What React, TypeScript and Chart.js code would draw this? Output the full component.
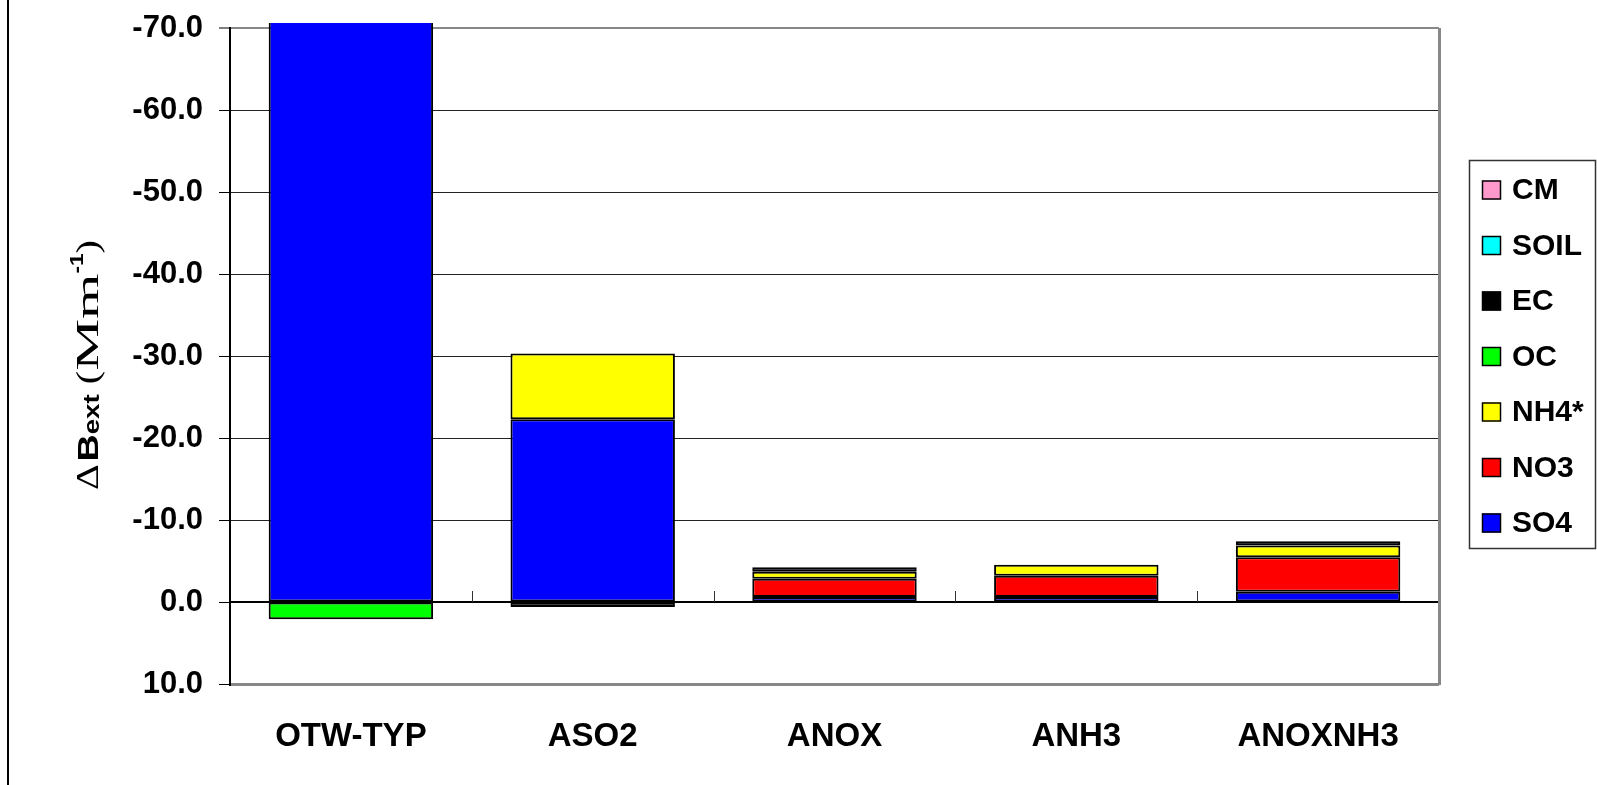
import React, { useEffect, useRef } from "react";
import { Chart, registerables } from "chart.js";
Chart.register(...registerables);

const categories = ["OTW-TYP", "ASO2", "ANOX", "ANH3", "ANOXNH3"];
const SO4 = [-75, -22.3, -0.6, -0.6, -1.25];
const NO3 = [0, 0, -2.25, -2.6, -4.2];
const NH4 = [0, -8.0, -0.85, -1.35, -1.45];
const OC = [2.1, 0, 0, 0, 0];
const EC = [0, 0.6, -0.55, 0, -0.5];
const SOIL = [0, 0, 0, 0, 0];
const CM = [0, 0, 0, 0, 0];
const seriesNames = ["SO4", "NO3", "NH4*", "OC", "EC", "SOIL", "CM"];
const seriesColors = ["#0000FF", "#FF0000", "#FFFF00", "#00FF00", "#000000", "#00FFFF", "#FF99CC"];
const seriesValues = [SO4, NO3, NH4, OC, EC, SOIL, CM];
const yMin = -70;
const yMax = 10;
const yStep = 10;

const SANS = "'Liberation Sans', Arial, sans-serif";
const SERIF = "'Liberation Serif', 'Times New Roman', serif";

const decorPlugin = {
  id: "decor",
  afterDatasetsDraw(chart: any) {
    const ctx = chart.ctx;
    const a = chart.chartArea;
    const yS = chart.scales.y;
    ctx.save();
    const y0 = Math.round(yS.getPixelForValue(0));
    ctx.strokeStyle = "#000";
    ctx.lineWidth = 2;
    ctx.beginPath();
    ctx.moveTo(a.left, y0);
    ctx.lineTo(a.right, y0);
    ctx.stroke();
    const n = categories.length;
    const cw = (a.right - a.left) / n;
    ctx.strokeStyle = "#333";
    ctx.lineWidth = 1;
    for (let k = 1; k < n; k++) {
      const x = Math.round(a.left + cw * k) + 0.5;
      ctx.beginPath();
      ctx.moveTo(x, y0);
      ctx.lineTo(x, y0 - 11);
      ctx.stroke();
    }
    ctx.restore();
  },
  afterDraw(chart: any) {
    const ctx = chart.ctx;
    const a = chart.chartArea;
    ctx.save();
    ctx.strokeStyle = "#888";
    ctx.lineWidth = 3;
    ctx.beginPath();
    ctx.moveTo(a.right + 0.5, a.top);
    ctx.lineTo(a.right + 0.5, a.bottom + 1);
    ctx.stroke();
    ctx.fillStyle = "#000";
    ctx.fillRect(7, 0, 2, 785);

    // legend
    ctx.strokeStyle = "#333";
    ctx.lineWidth = 1.5;
    ctx.strokeRect(1469.5, 160.5, 126, 388);
    const ds = chart.data.datasets;
    ctx.font = "bold 30px " + SANS;
    ctx.textBaseline = "middle";
    ctx.textAlign = "left";
    for (let i = 0; i < ds.length; i++) {
      const d = ds[ds.length - 1 - i];
      const cy = 190 + i * 55.5;
      ctx.fillStyle = d.backgroundColor;
      ctx.fillRect(1482, cy - 9.5, 19, 19);
      ctx.strokeStyle = "#000";
      ctx.lineWidth = 1.5;
      ctx.strokeRect(1482.5, cy - 9, 18, 18);
      ctx.fillStyle = "#000";
      ctx.fillText(d.label, 1512, cy + 1);
    }

    // y-axis title
    const pieces = [
      { t: "\u0394", f: "32px " + SERIF, dy: 0, sx: 1, gap: 2 },
      { t: "B", f: "bold 30px " + SANS, dy: 0, sx: 1, gap: 0 },
      { t: "ext", f: "bold 22px " + SANS, dy: 1, sx: 1, gap: 8 },
      { t: "(", f: "32px " + SERIF, dy: 0, sx: 1, gap: 0 },
      { t: "M", f: "32px " + SERIF, dy: 0, sx: 1.45, gap: 0 },
      { t: "m", f: "32px " + SERIF, dy: 0, sx: 1.45, gap: 0 },
      { t: "-1", f: "bold 18px " + SANS, dy: -15, sx: 1, gap: 0 },
      { t: ")", f: "32px " + SERIF, dy: 0, sx: 1, gap: 0 },
    ];
    let W = 0;
    const widths: number[] = [];
    for (const p of pieces) {
      ctx.font = p.f;
      const w = ctx.measureText(p.t).width * p.sx + p.gap;
      widths.push(w);
      W += w;
    }
    const k = 250 / W;
    ctx.translate(98, 490);
    ctx.rotate(-Math.PI / 2);
    ctx.textBaseline = "alphabetic";
    ctx.textAlign = "left";
    ctx.fillStyle = "#000";
    let pos = 0;
    pieces.forEach((p, i) => {
      ctx.save();
      ctx.font = p.f;
      ctx.translate(pos, p.dy);
      ctx.scale(k * p.sx, 1);
      ctx.fillText(p.t, 0, 0);
      ctx.restore();
      pos += widths[i] * k;
    });
    ctx.restore();
  },
};

export default function App() {
  const ref = useRef<HTMLCanvasElement>(null);
  useEffect(() => {
    if (!ref.current) return;
    const chart = new Chart(ref.current, {
      type: "bar",
      data: {
        labels: categories,
        datasets: seriesNames.map((name, i) => ({
          label: name,
          data: seriesValues[i],
          backgroundColor: seriesColors[i],
          borderColor: "#000",
          borderWidth: 2,
          borderSkipped: false,
          barPercentage: 0.68,
          categoryPercentage: 1,
          clip: { left: 5, top: 5, right: 5, bottom: 5 },
        })),
      },
      options: {
        responsive: false,
        animation: false,
        layout: { padding: { left: 0, right: 158, top: 28, bottom: 0 } },
        plugins: { legend: { display: false }, tooltip: { enabled: false } },
        scales: {
          x: {
            stacked: true,
            grid: { display: false },
            border: { display: false },
            ticks: { color: "#000", font: { family: SANS, size: 33, weight: "bold" }, padding: 25 },
            afterFit: (s: any) => {
              s.height = 101;
              s.paddingLeft = 0;
              s.paddingRight = 0;
            },
          },
          y: {
            stacked: true,
            reverse: true,
            min: yMin,
            max: yMax,
            ticks: {
              stepSize: yStep,
              color: "#000",
              padding: 16,
              font: { family: SANS, size: 31, weight: "bold" },
              callback: (v: any) => Number(v).toFixed(1),
            },
            grid: {
              color: (c: any) => (c.tick && (c.tick.value === yMin || c.tick.value === yMax) ? "#888" : c.tick && c.tick.value === 0 ? "#000" : "#222"),
              lineWidth: (c: any) => (c.tick && c.tick.value === yMax ? 3 : c.tick && c.tick.value === yMin ? 2 : 1),
              tickColor: "#000",
              tickLength: 11,
              tickWidth: 1,
            },
            border: { color: "#000", width: 2 },
            afterFit: (s: any) => {
              s.width = 230;
              s.paddingTop = 0;
              s.paddingBottom = 0;
            },
          },
        },
      },
      plugins: [decorPlugin],
    });
    return () => chart.destroy();
  }, []);
  return (
    <div style={{ position: "absolute", left: 0, top: 0, width: 1597, height: 785, background: "#fff" }}>
      <canvas ref={ref} width={1597} height={785} style={{ width: 1597, height: 785, display: "block" }} />
    </div>
  );
}
